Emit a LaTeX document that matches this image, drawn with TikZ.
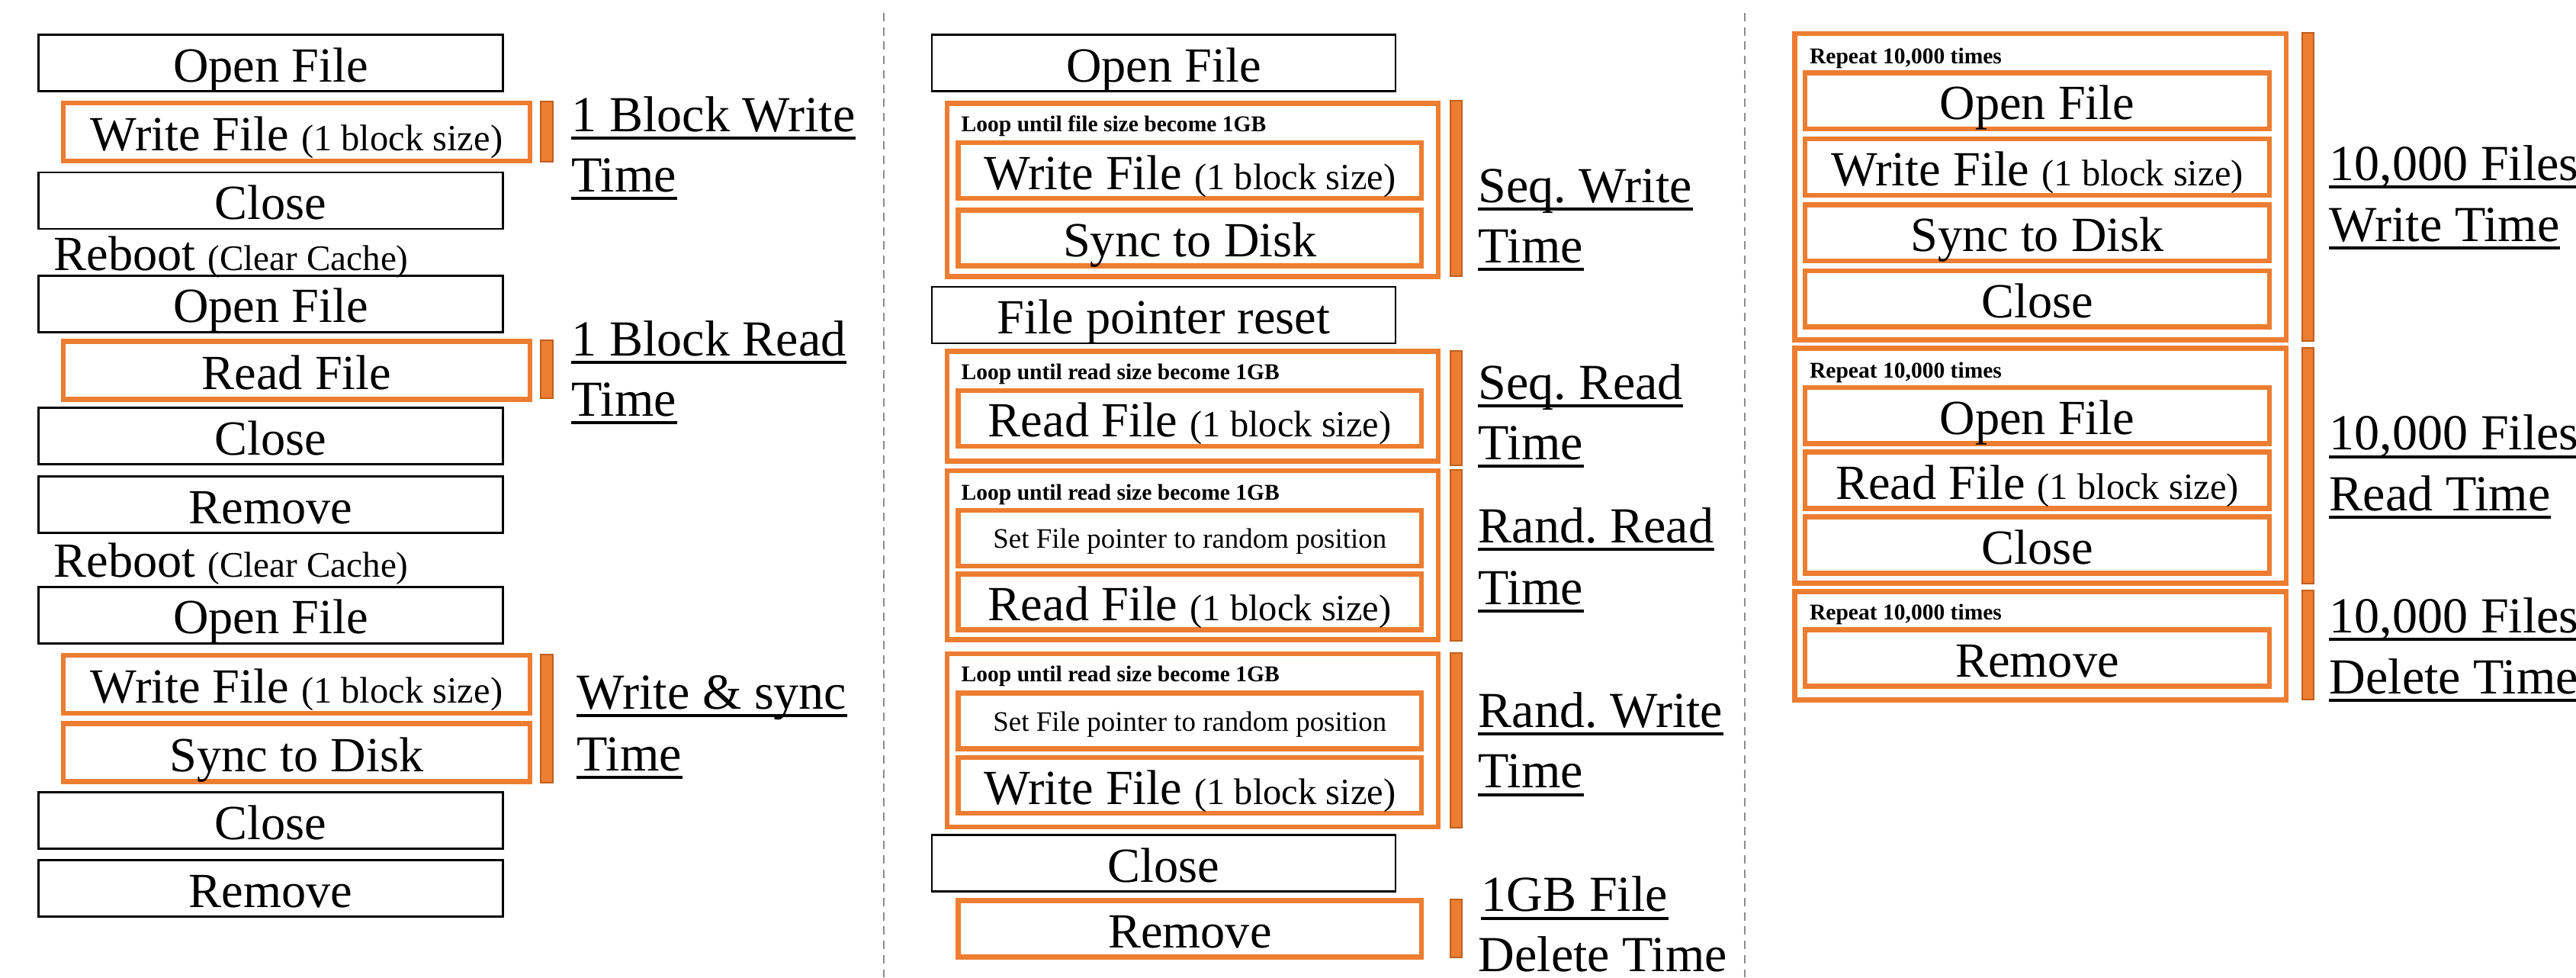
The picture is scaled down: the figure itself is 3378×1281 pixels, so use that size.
\documentclass[tikz,border=0pt]{standalone}
\usepackage{fontspec}
\setmainfont{Liberation Serif}
\frenchspacing
\definecolor{orng}{HTML}{ED7D31}
\definecolor{barb}{HTML}{C0601C}
\definecolor{sepg}{HTML}{8C8C8C}
\newcommand\bsz[1]{{\fontsize{13.8pt}{16pt}\selectfont #1}}
\newcommand\rsz[1]{{\fontsize{13.4pt}{16pt}\selectfont #1}}
\begin{document}
\begin{tikzpicture}[x=0.01cm,y=-0.01cm,
 sz/.style 2 args={minimum width=#1cm, minimum height=#2cm},
 boxtxt/.style={inner sep=0pt, outer sep=0pt, font=\fontsize{18.3pt}{22pt}\selectfont, text height=14.6pt, text depth=0.6pt, align=center},
 smalltxt/.style={font=\fontsize{10.5pt}{12pt}\selectfont, text height=8.2pt, text depth=0.8pt},
 blk/.style={boxtxt, draw=black, line width=0.027cm},
 org/.style={boxtxt, draw=orng, line width=0.065cm},
 loopbox/.style={draw=orng, line width=0.068cm, inner sep=0pt},
 bar/.style={fill=orng, draw=barb, line width=0.02cm, inner sep=0pt},
 lbl/.style={anchor=base west, inner sep=0pt, font=\fontsize{18.8pt}{22pt}\selectfont},
 reboot/.style={anchor=base west, inner sep=0pt, font=\fontsize{18.3pt}{22pt}\selectfont},
 loopnote/.style={anchor=base west, inner sep=0pt, font=\bfseries\fontsize{8.4pt}{10pt}\selectfont},
 ul/.style={line width=0.04cm},
 sep/.style={draw=sepg, line width=0.02cm, dash pattern=on 0.11cm off 0.077cm},
]
\useasboundingbox (0,0) rectangle (3378,1281);
\fill[white] (0,0) rectangle (3378,1281);

% separators
\coordinate (s1t) at (1159,17); \coordinate (s1b) at (1159,1281);
\coordinate (s2t) at (2288,17); \coordinate (s2b) at (2288,1281);
\draw[sep] (s1t) -- (s1b);
\draw[sep] (s2t) -- (s2b);

% ---------------- Column 1
\node[blk, sz={6.08}{0.74}] (c1open1) at (355,82.5) {Open File};
\node[org, sz={6.114}{0.76}] (c1write1) at (389,173) {Write File \bsz{(1 block size)}};
\node[bar, sz={0.163}{0.78}] (c1bar1) at (717,172.5) {};
\node[lbl] (c1l1a) at (749,172) {1 Block Write};
\node[lbl] (c1l1b) at (749,251) {Time};
\node[blk, sz={6.08}{0.74}] (c1close1) at (355,263) {Close};
\node[reboot] (c1reboot1) at (70,354.5) {Reboot \rsz{(Clear Cache)}};
\node[blk, sz={6.08}{0.74}] (c1open2) at (355,398.3) {Open File};
\node[org, sz={6.114}{0.76}] (c1read) at (389,485.7) {Read File};
\node[bar, sz={0.163}{0.767}] (c1bar2) at (717,484) {};
\node[lbl] (c1l2a) at (749,466.4) {1 Block Read};
\node[lbl] (c1l2b) at (749,545) {Time};
\node[blk, sz={6.08}{0.74}] (c1close2) at (355,571.8) {Close};
\node[blk, sz={6.08}{0.74}] (c1remove1) at (355,661.5) {Remove};
\node[reboot] (c1reboot2) at (70,756.6) {Reboot \rsz{(Clear Cache)}};
\node[blk, sz={6.08}{0.74}] (c1open3) at (355,806.3) {Open File};
\node[org, sz={6.114}{0.76}] (c1write2) at (389,897) {Write File \bsz{(1 block size)}};
\node[org, sz={6.114}{0.76}] (c1sync) at (389,986.4) {Sync to Disk};
\node[bar, sz={0.163}{1.68}] (c1bar3) at (717,941.6) {};
\node[lbl] (c1l3a) at (756,929) {Write \& sync};
\node[lbl] (c1l3b) at (756,1010) {Time};
\node[blk, sz={6.08}{0.74}] (c1close3) at (355,1075.5) {Close};
\node[blk, sz={6.08}{0.74}] (c1remove2) at (355,1164.5) {Remove};

% ---------------- Column 2
\node[blk, sz={6.075}{0.74}] (c2open) at (1526,82.5) {Open File};
\node[loopbox, sz={6.436}{2.27}] (c2loop1) at (1564,248.75) {};
\node[loopnote] (c2n1) at (1260,172) {Loop until file size become 1GB};
\node[org, sz={6.075}{0.73}] (c2write1) at (1560.3,223.5) {Write File \bsz{(1 block size)}};
\node[org, sz={6.075}{0.73}] (c2sync) at (1560.3,311.8) {Sync to Disk};
\node[bar, sz={0.15}{2.297}] (c2bar1) at (1909,246.7) {};
\node[lbl] (c2l1a) at (1938,265.3) {Seq. Write};
\node[lbl] (c2l1b) at (1938,344) {Time};

\node[blk, sz={6.075}{0.74}] (c2reset) at (1526,413.1) {File pointer reset};

\node[loopbox, sz={6.436}{1.44}] (c2loop2) at (1564,532.3) {};
\node[loopnote] (c2n2) at (1260,497.5) {Loop until read size become 1GB};
\node[org, sz={6.075}{0.73}] (c2read1) at (1560.3,548.3) {Read File \bsz{(1 block size)}};
\node[bar, sz={0.15}{1.495}] (c2bar2) at (1909,534.8) {};
\node[lbl] (c2l2a) at (1938,523) {Seq. Read};
\node[lbl] (c2l2b) at (1938,602) {Time};

\node[loopbox, sz={6.436}{2.21}] (c2loop3) at (1564,727.6) {};
\node[loopnote] (c2n3) at (1260,655) {Loop until read size become 1GB};
\node[org, smalltxt, sz={6.075}{0.73}] (c2seek1) at (1560.3,705.5) {Set File pointer to random position};
\node[org, sz={6.075}{0.73}] (c2read2) at (1560.3,788.8) {Read File \bsz{(1 block size)}};
\node[bar, sz={0.15}{2.24}] (c2bar3) at (1909,727.8) {};
\node[lbl] (c2l3a) at (1938,711) {Rand. Read};
\node[lbl] (c2l3b) at (1938,792) {Time};

\node[loopbox, sz={6.436}{2.27}] (c2loop4) at (1564,970.5) {};
\node[loopnote] (c2n4) at (1260,893.6) {Loop until read size become 1GB};
\node[org, smalltxt, sz={6.075}{0.73}] (c2seek2) at (1560.3,945) {Set File pointer to random position};
\node[org, sz={6.075}{0.73}] (c2write2) at (1560.3,1029.5) {Write File \bsz{(1 block size)}};
\node[bar, sz={0.15}{2.286}] (c2bar4) at (1909,970.3) {};
\node[lbl] (c2l4a) at (1938,953) {Rand. Write};
\node[lbl] (c2l4b) at (1938,1032.7) {Time};

\node[blk, sz={6.075}{0.74}] (c2close) at (1526,1131.7) {Close};
\node[org, sz={6.075}{0.74}] (c2remove) at (1560.3,1217.5) {Remove};
\node[bar, sz={0.15}{0.76}] (c2bar5) at (1909,1217) {};
\node[lbl] (c2l5a) at (1942,1194.6) {1GB File};
\node[lbl] (c2l5b) at (1938,1273) {Delete Time};

% ---------------- Column 3
\node[loopbox, sz={6.443}{4.014}] (c3loop1) at (2675.7,244.8) {};
\node[loopnote] (c3n1) at (2372.4,83) {Repeat 10,000 times};
\node[org, sz={6.086}{0.735}] (c3open1) at (2671.5,132.25) {Open File};
\node[org, sz={6.086}{0.735}] (c3write) at (2671.5,219) {Write File \bsz{(1 block size)}};
\node[org, sz={6.086}{0.735}] (c3sync) at (2671.5,305.3) {Sync to Disk};
\node[org, sz={6.086}{0.735}] (c3close1) at (2671.5,391.8) {Close};
\node[bar, sz={0.154}{4.03}] (c3bar1) at (3026.5,245) {};
\node[lbl] (c3l1a) at (3054,236.3) {10,000 Files};
\node[lbl] (c3l1b) at (3054,316) {Write Time};

\node[loopbox, sz={6.443}{3.078}] (c3loop2) at (2675.7,610.4) {};
\node[loopnote] (c3n2) at (2372.4,495.5) {Repeat 10,000 times};
\node[org, sz={6.086}{0.735}] (c3open2) at (2671.5,544.6) {Open File};
\node[org, sz={6.086}{0.735}] (c3read) at (2671.5,629.5) {Read File \bsz{(1 block size)}};
\node[org, sz={6.086}{0.735}] (c3close2) at (2671.5,714.5) {Close};
\node[bar, sz={0.154}{3.09}] (c3bar2) at (3026.5,610.5) {};
\node[lbl] (c3l2a) at (3054,589.5) {10,000 Files};
\node[lbl] (c3l2b) at (3054,669.4) {Read Time};

\node[loopbox, sz={6.443}{1.416}] (c3loop3) at (2675.7,846.3) {};
\node[loopnote] (c3n3) at (2372.4,812.7) {Repeat 10,000 times};
\node[org, sz={6.086}{0.735}] (c3remove) at (2671.5,862.5) {Remove};
\node[bar, sz={0.154}{1.428}] (c3bar3) at (3026.5,845.9) {};
\node[lbl] (c3l3a) at (3054,829.3) {10,000 Files};
\node[lbl] (c3l3b) at (3054,909) {Delete Time};

% underlines
\foreach \n in {c1l1a,c1l1b,c1l2a,c1l2b,c1l3a,c1l3b,c2l1a,c2l1b,c2l2a,c2l2b,c2l3a,c2l3b,c2l4a,c2l4b,c2l5a,c3l1a,c3l1b,c3l2a,c3l2b,c3l3a,c3l3b}
  \draw[ul] ([yshift=-0.09cm]\n.base west) -- ([yshift=-0.09cm]\n.base east);
\end{tikzpicture}
\end{document}
